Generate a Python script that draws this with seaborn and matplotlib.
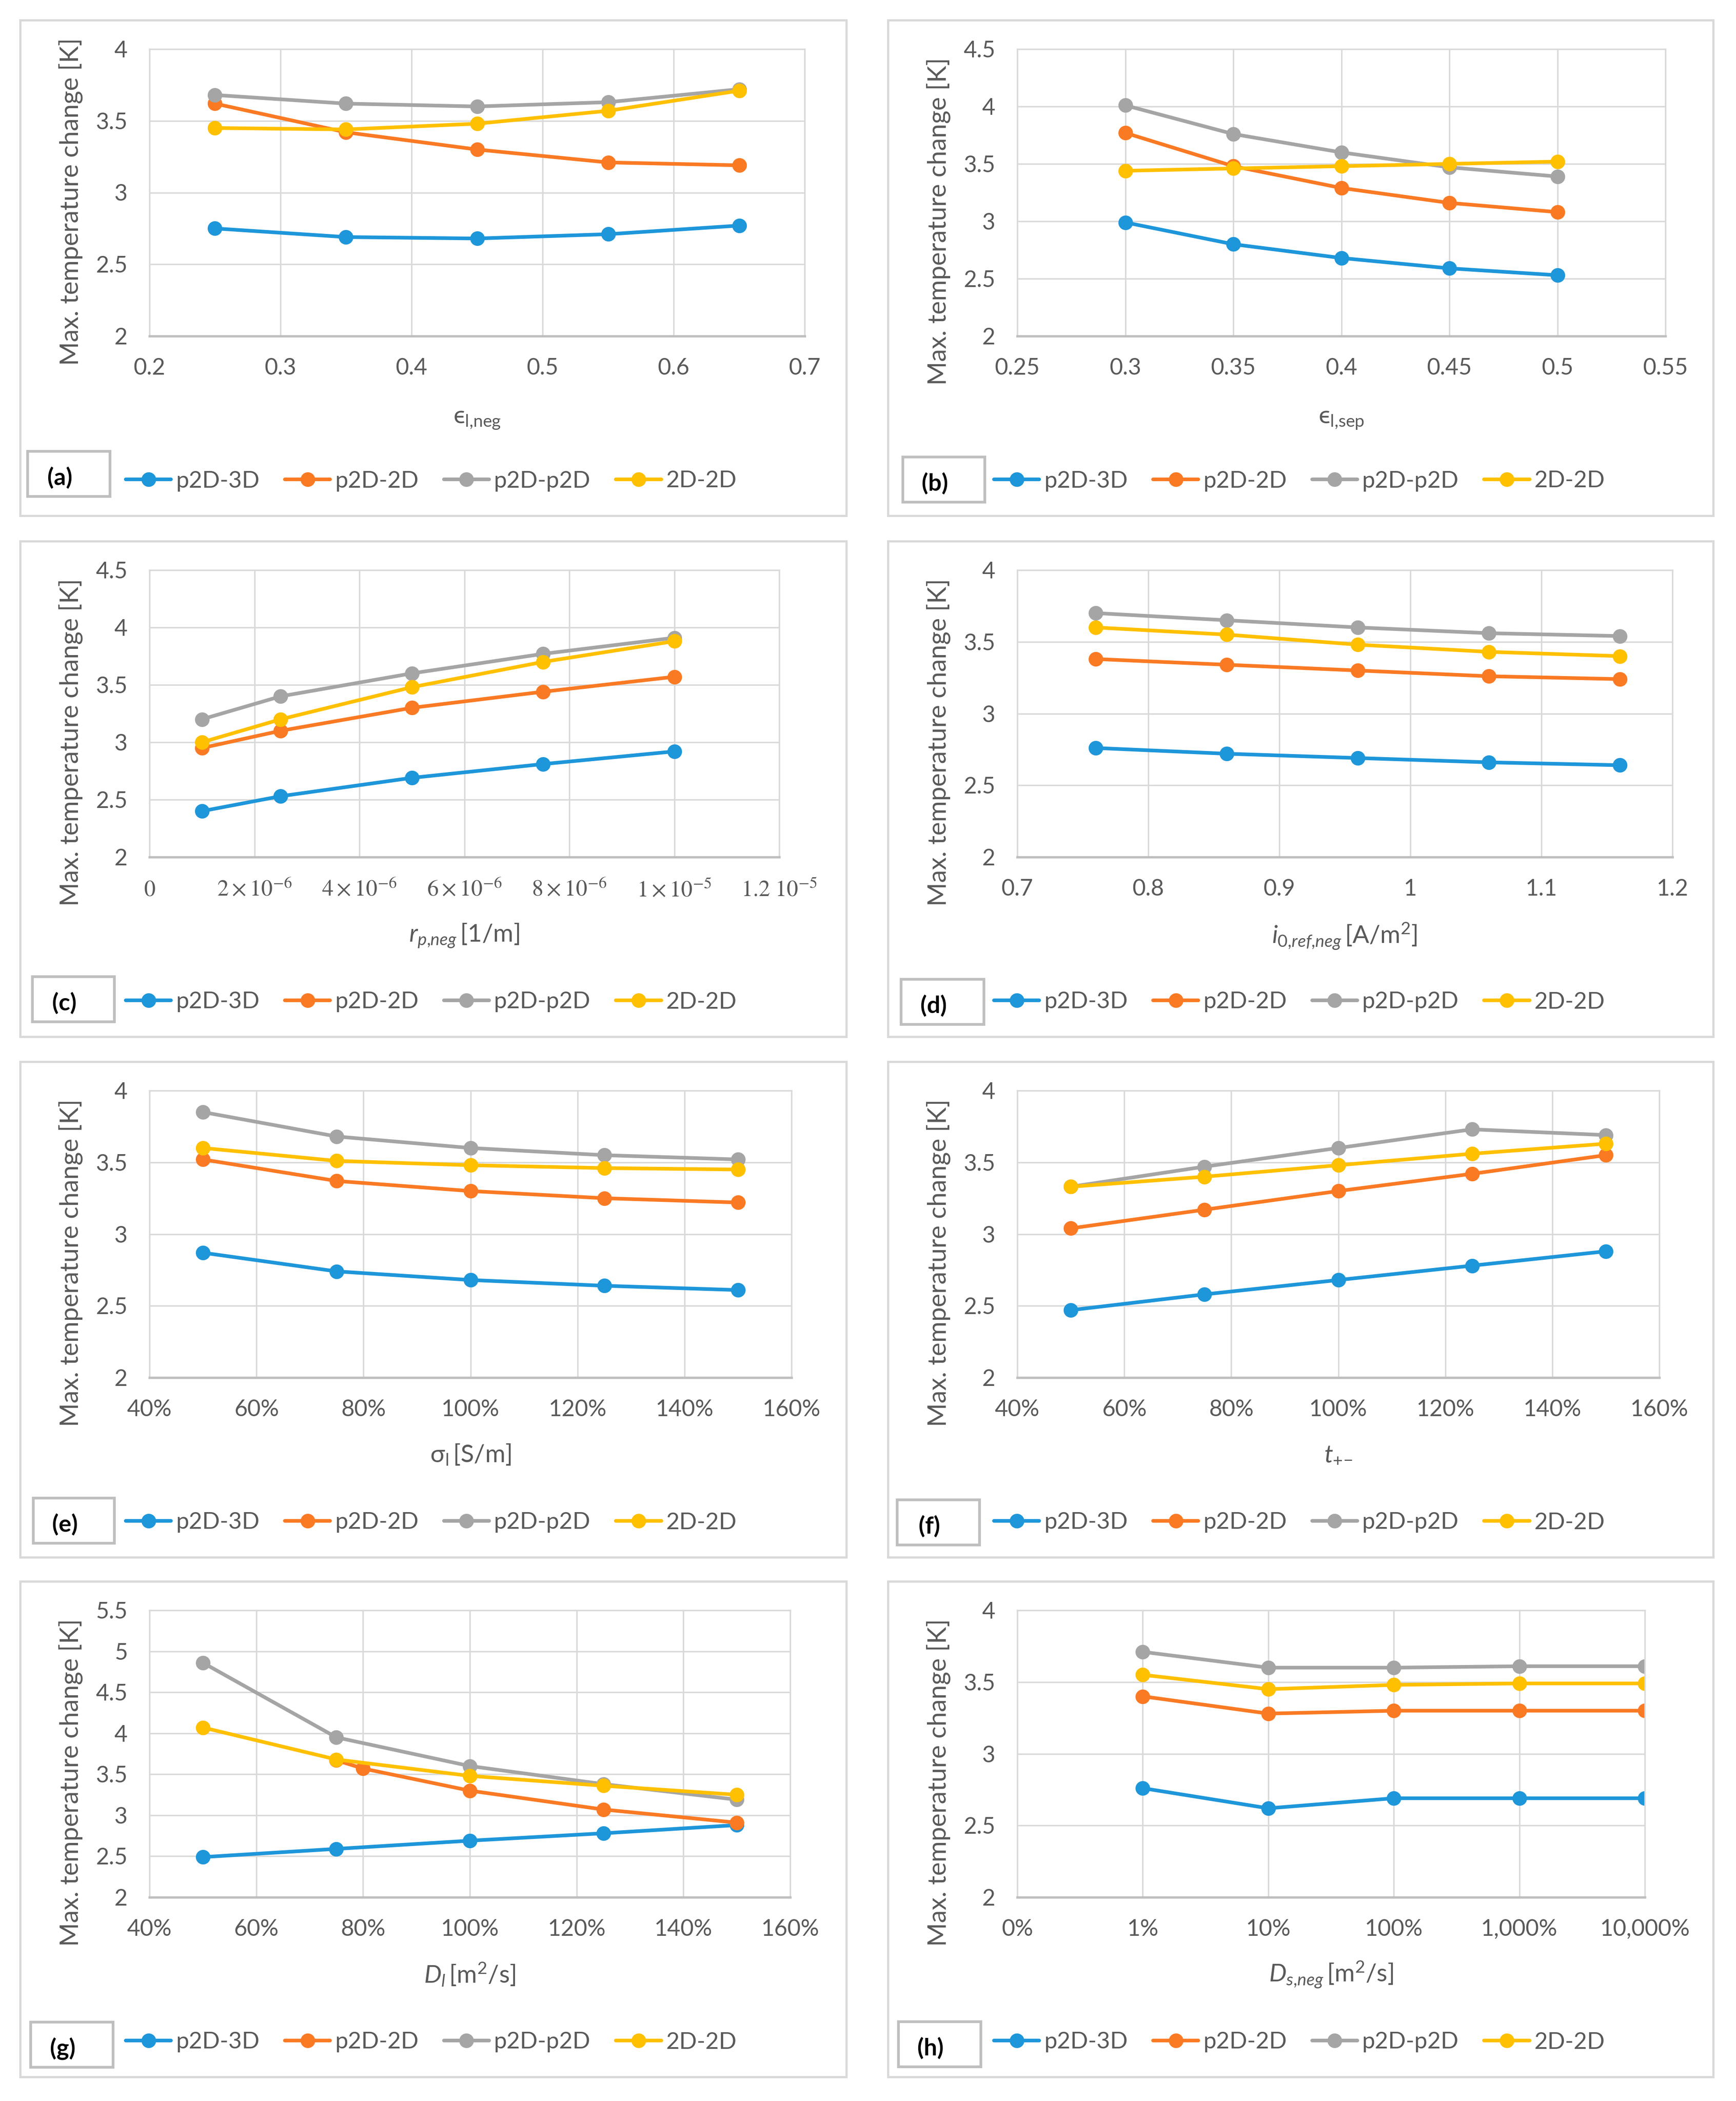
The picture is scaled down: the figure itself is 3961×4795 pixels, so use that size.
import numpy as np
import pandas as pd
import matplotlib
matplotlib.use("Agg")
import matplotlib.pyplot as plt
import seaborn as sns
from matplotlib.patches import Rectangle
from matplotlib.ticker import FuncFormatter, NullLocator

# ---------------- data ----------------
SERIES = ["p2D-3D", "p2D-2D", "p2D-p2D", "2D-2D"]
COLORS = ["#1E96DA", "#FA7A24", "#A5A5A5", "#FFC000"]

# (a) eps_l,neg
a_x = [0.25, 0.35, 0.45, 0.55, 0.65]
a_p2d3d = [2.75, 2.69, 2.68, 2.71, 2.77]
a_p2d2d = [3.62, 3.42, 3.30, 3.21, 3.19]
a_p2dp2d = [3.68, 3.62, 3.60, 3.63, 3.72]
a_2d2d = [3.45, 3.44, 3.48, 3.57, 3.71]

# (b) eps_l,sep
b_x = [0.30, 0.35, 0.40, 0.45, 0.50]
b_p2d3d = [2.99, 2.80, 2.68, 2.59, 2.53]
b_p2d2d = [3.77, 3.48, 3.29, 3.16, 3.08]
b_p2dp2d = [4.01, 3.76, 3.60, 3.47, 3.39]
b_2d2d = [3.44, 3.46, 3.48, 3.50, 3.52]

# (c) r_p,neg
c_x = [1.0e-6, 2.5e-6, 5.0e-6, 7.5e-6, 1.0e-5]
c_p2d3d = [2.40, 2.53, 2.69, 2.81, 2.92]
c_p2d2d = [2.95, 3.10, 3.30, 3.44, 3.57]
c_p2dp2d = [3.20, 3.40, 3.60, 3.77, 3.91]
c_2d2d = [3.00, 3.20, 3.48, 3.70, 3.88]

# (d) i0,ref,neg
d_x = [0.76, 0.86, 0.96, 1.06, 1.16]
d_p2d3d = [2.76, 2.72, 2.69, 2.66, 2.64]
d_p2d2d = [3.38, 3.34, 3.30, 3.26, 3.24]
d_p2dp2d = [3.70, 3.65, 3.60, 3.56, 3.54]
d_2d2d = [3.60, 3.55, 3.48, 3.43, 3.40]

# (e) sigma_l
e_x = [0.50, 0.75, 1.00, 1.25, 1.50]
e_p2d3d = [2.87, 2.74, 2.68, 2.64, 2.61]
e_p2d2d = [3.52, 3.37, 3.30, 3.25, 3.22]
e_p2dp2d = [3.85, 3.68, 3.60, 3.55, 3.52]
e_2d2d = [3.60, 3.51, 3.48, 3.46, 3.45]

# (f) t+-
f_x = [0.50, 0.75, 1.00, 1.25, 1.50]
f_p2d3d = [2.47, 2.58, 2.68, 2.78, 2.88]
f_p2d2d = [3.04, 3.17, 3.30, 3.42, 3.55]
f_p2dp2d = [3.33, 3.47, 3.60, 3.73, 3.69]
f_2d2d = [3.33, 3.40, 3.48, 3.56, 3.63]

# (g) D_l
g_x = [0.50, 0.75, 1.00, 1.25, 1.50]
g_x_p2d2d = [0.75, 0.80, 1.00, 1.25, 1.50]
g_p2d3d = [2.49, 2.59, 2.69, 2.78, 2.88]
g_p2d2d = [3.67, 3.57, 3.30, 3.07, 2.91]
g_p2dp2d = [4.86, 3.95, 3.60, 3.38, 3.19]
g_2d2d = [4.07, 3.68, 3.48, 3.36, 3.25]

# (h) D_s,neg
h_x = [0.01, 0.1, 1.0, 10.0, 100.0]
h_p2d3d = [2.76, 2.62, 2.69, 2.69, 2.69]
h_p2d2d = [3.40, 3.28, 3.30, 3.30, 3.30]
h_p2dp2d = [3.71, 3.60, 3.60, 3.61, 3.61]
h_2d2d = [3.55, 3.45, 3.48, 3.49, 3.49]

# ticks
a_xticks = [0.2, 0.3, 0.4, 0.5, 0.6, 0.7]
b_xticks = [0.25, 0.3, 0.35, 0.4, 0.45, 0.5, 0.55]
c_xticks = [0, 2e-6, 4e-6, 6e-6, 8e-6, 1e-5, 1.2e-5]
c_xticklabels = [r"$0$", r"$2\times10^{-6}$", r"$4\times10^{-6}$", r"$6\times10^{-6}$",
                 r"$8\times10^{-6}$", r"$1\times10^{-5}$", r"$1.2\ 10^{-5}$"]
d_xticks = [0.7, 0.8, 0.9, 1.0, 1.1, 1.2]
pct_xticks = [0.4, 0.6, 0.8, 1.0, 1.2, 1.4, 1.6]
pct_xticklabels = ["40%", "60%", "80%", "100%", "120%", "140%", "160%"]
h_xticks = [0.001, 0.01, 0.1, 1, 10, 100]
h_xticklabels = ["0%", "1%", "10%", "100%", "1,000%", "10,000%"]
y_ticks_40 = [2, 2.5, 3, 3.5, 4]
y_ticks_45 = [2, 2.5, 3, 3.5, 4, 4.5]
y_ticks_55 = [2, 2.5, 3, 3.5, 4, 4.5, 5, 5.5]

YLABEL = "Max. temperature change [K]"
xlabels = {
    "a": r"$\mathrm{ϵ}_{\mathrm{l{,}neg}}$",
    "b": r"$\mathrm{ϵ}_{\mathrm{l{,}sep}}$",
    "c": r"$r_{p{,}neg}\,\mathrm{[1/m]}$",
    "d": r"$i_{0{,}ref{,}neg}\,\mathrm{[A/m^{2}]}$",
    "e": r"$\mathrm{σ}_{\mathrm{l}}\,\mathrm{[S/m]}$",
    "f": r"$t_{+\!-}$",
    "g": r"$D_{l}\,\mathrm{[m^{2}/s]}$",
    "h": r"$D_{s{,}neg}\,\mathrm{[m^{2}/s]}$",
}

# ---------------- style ----------------
sns.set_theme(style="white")
plt.rcParams["font.family"] = ["Lato", "DejaVu Sans"]
plt.rcParams["mathtext.fontset"] = "custom"
plt.rcParams["mathtext.rm"] = "Lato"
plt.rcParams["mathtext.it"] = "Lato:italic"
plt.rcParams["mathtext.bf"] = "Lato:bold"
plt.rcParams["mathtext.fallback"] = "stixsans"

W, H = 3961, 4795
DPI = 300
fig = plt.figure(figsize=(W / DPI, H / DPI), dpi=DPI)
fig.patch.set_facecolor("white")

TXT = "#595959"
GRID = "#D9D9D9"


def fx(x):
    return x / W


def fy(y):
    return 1 - y / H


ROW_TOP = [46, 1235, 2423, 3609]
COL_FRAME = [(46, 1931), (2026, 3909)]
AX_LEFT = [341, 2321]
LEG_X = [287, 2268]
LEG_OFF = 1052

panels = [
    # key, row, col, right edge px, box(x0,x1,yoff), ylabel y frac, xlabel off
    ("a", 0, 0, 1836, (63, 251, 984), 0.468, 191),
    ("b", 0, 1, 3800, (2060, 2247, 997), 0.40, 191),
    ("c", 1, 0, 1778, (74, 261, 994), 0.40, 180),
    ("d", 1, 1, 3816, (2056, 2245, 1000), 0.40, 180),
    ("e", 2, 0, 1806, (76, 261, 996), 0.40, 176),
    ("f", 2, 1, 3786, (2047, 2235, 1000), 0.40, 176),
    ("g", 3, 0, 1803, (70, 258, 1006), 0.40, 176),
    ("h", 3, 1, 3753, (2050, 2238, 1005), 0.40, 176),
]

panel_data = {
    "a": ([a_x] * 4, [a_p2d3d, a_p2d2d, a_p2dp2d, a_2d2d]),
    "b": ([b_x] * 4, [b_p2d3d, b_p2d2d, b_p2dp2d, b_2d2d]),
    "c": ([c_x] * 4, [c_p2d3d, c_p2d2d, c_p2dp2d, c_2d2d]),
    "d": ([d_x] * 4, [d_p2d3d, d_p2d2d, d_p2dp2d, d_2d2d]),
    "e": ([e_x] * 4, [e_p2d3d, e_p2d2d, e_p2dp2d, e_2d2d]),
    "f": ([f_x] * 4, [f_p2d3d, f_p2d2d, f_p2dp2d, f_2d2d]),
    "g": ([g_x, g_x_p2d2d, g_x, g_x], [g_p2d3d, g_p2d2d, g_p2dp2d, g_2d2d]),
    "h": ([h_x] * 4, [h_p2d3d, h_p2d2d, h_p2dp2d, h_2d2d]),
}

axis_cfg = {
    "a": dict(xlim=(0.2, 0.7), xticks=a_xticks, labels=None, yt=y_ticks_40),
    "b": dict(xlim=(0.25, 0.55), xticks=b_xticks, labels=None, yt=y_ticks_45),
    "c": dict(xlim=(0, 1.2e-5), xticks=c_xticks, labels=c_xticklabels, yt=y_ticks_45),
    "d": dict(xlim=(0.7, 1.2), xticks=d_xticks, labels=None, yt=y_ticks_40),
    "e": dict(xlim=(0.4, 1.6), xticks=pct_xticks, labels=pct_xticklabels, yt=y_ticks_40),
    "f": dict(xlim=(0.4, 1.6), xticks=pct_xticks, labels=pct_xticklabels, yt=y_ticks_40),
    "g": dict(xlim=(0.4, 1.6), xticks=pct_xticks, labels=pct_xticklabels, yt=y_ticks_55),
    "h": dict(xlim=(0.001, 100), xticks=h_xticks, labels=h_xticklabels, yt=y_ticks_40, log=True),
}

for key, row, col, right, box, ylab_y, xlab_off in panels:
    top = ROW_TOP[row]
    fr0, fr1 = COL_FRAME[col]
    # panel frame
    fig.add_artist(Rectangle((fx(fr0), fy(top + 1131)), fx(fr1 - fr0), (1131) / H,
                             transform=fig.transFigure, fill=False, ec=GRID, lw=1.2))
    left = AX_LEFT[col]
    ax_top, ax_bot = top + 66, top + 721
    ax = fig.add_axes([fx(left), fy(ax_bot), fx(right - left), (ax_bot - ax_top) / H])
    cfg = axis_cfg[key]
    if cfg.get("log"):
        ax.set_xscale("log")

    xs, ys = panel_data[key]
    frames = []
    for name, xv, yv in zip(SERIES, xs, ys):
        frames.append(pd.DataFrame({"x": xv, "y": yv, "series": name}))
    df = pd.concat(frames, ignore_index=True)
    sns.lineplot(data=df, x="x", y="y", hue="series", hue_order=SERIES, palette=COLORS,
                 marker="o", markersize=8, markeredgewidth=0, linewidth=2.0,
                 estimator=None, errorbar=None, ax=ax)

    ax.set_xlim(*cfg["xlim"])
    ax.set_ylim(cfg["yt"][0], cfg["yt"][-1])
    ax.set_yticks(cfg["yt"])
    ax.yaxis.set_major_formatter(FuncFormatter(lambda v, p: f"{v:g}"))
    ax.set_xticks(cfg["xticks"])
    if cfg.get("log"):
        ax.xaxis.set_minor_locator(NullLocator())
    if cfg["labels"] is not None:
        if key == "c":
            ax.set_xticklabels(cfg["labels"], math_fontfamily="stix", fontsize=15)
        else:
            ax.set_xticklabels(cfg["labels"])
    else:
        ax.xaxis.set_major_formatter(FuncFormatter(lambda v, p: f"{v:g}"))

    ax.set_axisbelow(True)
    ax.grid(True, color=GRID, lw=0.8)
    ax.tick_params(axis="both", length=0, labelsize=12.5, labelcolor=TXT, pad=12)
    for s in ["left", "top", "right"]:
        ax.spines[s].set_color(GRID)
        ax.spines[s].set_linewidth(0.8)
    ax.spines["bottom"].set_color("#BFBFBF")
    ax.spines["bottom"].set_linewidth(1.3)

    ax.set_ylabel(YLABEL, fontsize=14, color=TXT)
    ax.yaxis.set_label_coords(-180 / (right - left), ylab_y)
    ax.yaxis.label.set_va("center")
    ax.set_xlabel(xlabels[key], fontsize=13.5, color=TXT)
    ax.xaxis.set_label_coords(0.5, -xlab_off / (ax_bot - ax_top))
    ax.xaxis.label.set_va("center")

    # legend
    handles, labels = ax.get_legend_handles_labels()
    bx0, bx1, boff = box
    ly = top + LEG_OFF
    ax.legend(handles, labels, loc="center left",
              bbox_to_anchor=(fx(LEG_X[col]), fy(ly)), bbox_transform=fig.transFigure,
              ncol=4, frameon=False, fontsize=12.7, handlelength=1.95,
              handletextpad=0.2, columnspacing=1.1, borderpad=0, borderaxespad=0,
              labelcolor=TXT)
    # panel letter box
    fig.add_artist(Rectangle((fx(bx0), fy(top + boff + 103)), fx(bx1 - bx0), 103 / H,
                             transform=fig.transFigure, fill=False, ec="#BFBFBF", lw=1.5))
    fig.text(fx(bx0 + 0.39 * (bx1 - bx0)), fy(top + boff + 60), f"({key})",
             fontsize=13, fontweight="bold", color="black", ha="center", va="center")

fig.savefig("out.png", dpi=DPI, facecolor="white")
